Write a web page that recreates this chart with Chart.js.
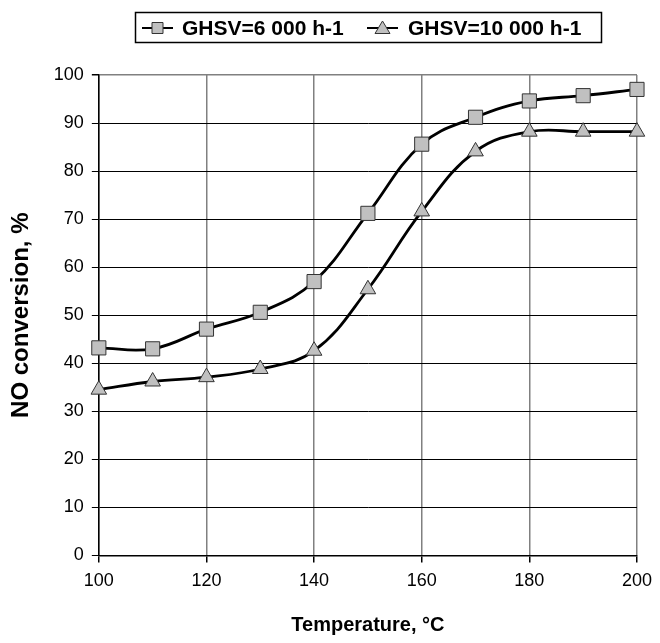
<!DOCTYPE html>
<html>
<head>
<meta charset="utf-8">
<script src="https://cdn.jsdelivr.net/npm/chart.js@4.4.0/dist/chart.umd.min.js"></script>
<style>
  html, body { margin: 0; padding: 0; background: #fff; }
  #wrap { width: 660px; height: 643px; }
</style>
</head>
<body>
<div id="wrap"><canvas id="myChart"></canvas></div>
<script>
// values
var temps = [100, 110, 120, 130, 140, 150, 160, 170, 180, 190, 200];
var ghsv6000 = [43.2, 43.0, 47.1, 50.6, 57.0, 71.2, 85.6, 91.2, 94.6, 95.7, 97.0];
var ghsv10000 = [34.5, 36.2, 37.1, 38.8, 42.6, 55.4, 71.6, 84.1, 88.2, 88.2, 88.2];
var xTicks = [100, 120, 140, 160, 180, 200];
var seriesNames = ["GHSV=6 000 h-1", "GHSV=10 000 h-1"];

function toPoints(ys) {
  var out = [];
  for (var i = 0; i < temps.length; i++) {
    out.push({ x: temps[i], y: ys[i] });
  }
  return out;
}

// legend drawn by hand, in a box above the plot
var boxLegend = {
  id: "boxLegend",
  afterDraw: function (chart) {
    var c = chart.ctx;
    c.save();
    c.strokeStyle = "#000";
    c.lineWidth = 1.5;
    c.strokeRect(135.5, 12.5, 466, 30);
    c.font = "bold 21px 'Liberation Sans'";
    c.fillStyle = "#000";
    c.textBaseline = "middle";
    var items = [
      { x: 142, kind: "rect", textX: 182 },
      { x: 367, kind: "tri", textX: 408 },
    ];
    for (var i = 0; i < items.length; i++) {
      var it = items[i];
      var cy = 28;
      c.strokeStyle = "#000";
      c.lineWidth = 2;
      c.beginPath();
      c.moveTo(it.x, cy);
      c.lineTo(it.x + 31, cy);
      c.stroke();
      c.fillStyle = "#c0c0c0";
      c.strokeStyle = "#333";
      c.lineWidth = 1;
      c.beginPath();
      var mx = it.x + 15.5;
      if (it.kind == "rect") {
        c.rect(mx - 5.5, cy - 5.5, 11, 11);
      } else {
        c.moveTo(mx, cy - 7);
        c.lineTo(mx + 7.5, cy + 5.5);
        c.lineTo(mx - 7.5, cy + 5.5);
        c.closePath();
      }
      c.fill();
      c.stroke();
      c.fillStyle = "#000";
      c.fillText(seriesNames[i], it.textX, cy + 1);
    }
    c.restore();
  },
};

var ctx = document.getElementById("myChart").getContext("2d");
var myChart = new Chart(ctx, {
  type: "line",
  data: {
    datasets: [
      {
        label: seriesNames[0],
        data: toPoints(ghsv6000),
        borderColor: "#000",
        borderWidth: 2.8,
        tension: 0.4,
        clip: false,
        pointStyle: "rect",
        pointRadius: 10,
        pointBackgroundColor: "#c0c0c0",
        pointBorderColor: "#333",
        pointBorderWidth: 1,
      },
      {
        label: seriesNames[1],
        data: toPoints(ghsv10000),
        borderColor: "#000",
        borderWidth: 2.8,
        tension: 0.4,
        clip: false,
        pointStyle: "triangle",
        pointRadius: 9,
        pointBackgroundColor: "#c0c0c0",
        pointBorderColor: "#333",
        pointBorderWidth: 1,
      },
    ],
  },
  options: {
    responsive: true,
    maintainAspectRatio: false,
    animation: false,
    layout: { padding: { left: 7, right: 4, top: 75, bottom: 6 } },
    plugins: {
      tooltip: { enabled: false },
      legend: { display: false },
    },
    scales: {
      x: {
        type: "linear",
        min: 100,
        max: 200,
        afterBuildTicks: function (axis) {
          axis.ticks = xTicks.map(function (v) { return { value: v }; });
        },
        grid: { color: "#808080", lineWidth: 1.5, tickLength: 7, tickColor: "#000" },
        border: { color: "#000", width: 1.5 },
        ticks: {
          color: "#000",
          padding: 8,
          maxRotation: 0,
          font: { family: "Liberation Sans", size: 18 },
        },
        title: {
          display: true,
          text: "Temperature, °C",
          color: "#000",
          padding: { top: 13, bottom: 0 },
          font: { family: "Liberation Sans", size: 20, weight: "bold" },
        },
      },
      y: {
        min: 0,
        max: 100,
        ticks: {
          stepSize: 10,
          color: "#000",
          padding: 8,
          font: { family: "Liberation Sans", size: 18 },
        },
        grid: {
          color: function (c) { return c.tick && c.tick.value == 100 ? "#808080" : "#000"; },
          lineWidth: function (c) { return c.tick && c.tick.value == 100 ? 1.5 : 1; },
          tickLength: 7,
          tickColor: "#000",
        },
        border: { color: "#000", width: 1.5 },
        title: {
          display: true,
          text: "NO conversion, %",
          color: "#000",
          padding: { top: 0, bottom: 10 },
          font: { family: "Liberation Sans", size: 24, weight: "bold" },
        },
      },
    },
  },
  plugins: [boxLegend],
});
</script>
</body>
</html>
